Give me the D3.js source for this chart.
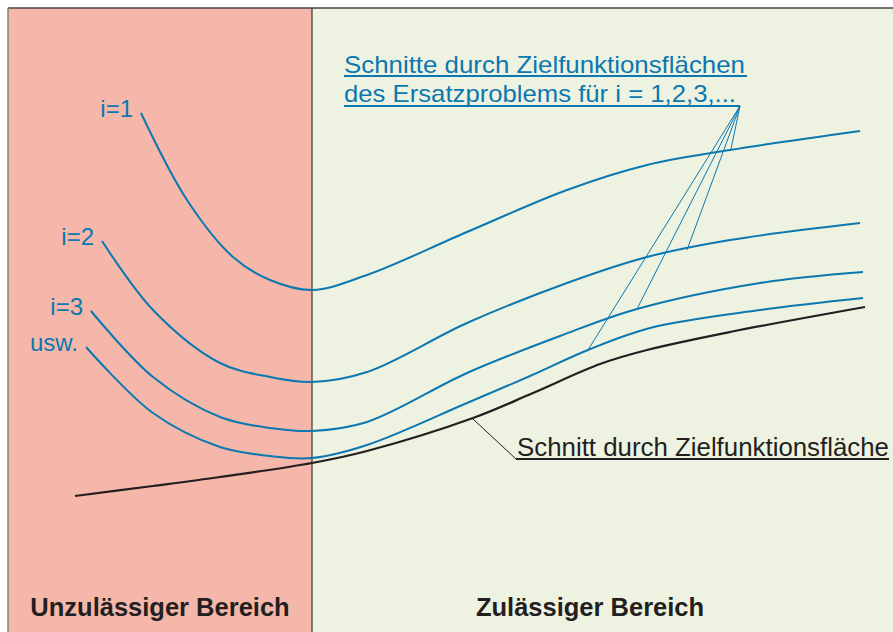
<!DOCTYPE html>
<html>
<head>
<meta charset="utf-8">
<script src="https://cdn.jsdelivr.net/npm/d3@7"></script>
<style>
  html, body { margin: 0; padding: 0; background: #ffffff; }
  svg { display: block; }
</style>
</head>
<body>
<svg id="chart"></svg>
<script>
// Schnitte durch Zielfunktionsflächen (x: Entwurfsgröße, y: Zielfunktionswert)
const boundaryX = 304;            // Grenze unzulässig / zulässig

// Ersatzproblem i = 1, 2, 3, usw.
const curveLabels = ["i=1", "i=2", "i=3", "usw."];
const penaltyCurves = [
    [[133,519],[179,432],[225,375],[262,352],[304,342],[359,357],[459,400],[559,442],[639,467],[722,482],[852,501]],
    [[94,391],[145,322],[212,269],[262,255],[304,250],[359,260],[459,309],[559,349],[639,375],[722,392],[852,409]],
    [[83,321],[145,255],[212,215],[262,204],[304,201],[359,210],[459,259],[552,296],[629,323],[752,349],[855,360]],
    [[78,285],[145,219],[212,185],[262,176],[304,174],[359,187],[459,229],[522,256],[580,282],[642,304],[752,322],[855,334]]
];

// eigentliche Zielfunktion
const objective = [[67,136],[145,146],[212,155],[304,169],[359,181],[465,214],[525,239],[592,268],[639,282],[722,300],[857,325]];

// Hinweislinien
const blueAnchor = [732, 526];
const blueTargets = [[723,483],[679,382],[629,323],[580,282]];
const blackTarget = [465, 213];
const blackElbow = [508, 173];

const blueText = ["Schnitte durch Zielfunktionsflächen", "des Ersatzproblems für i = 1,2,3,..."];
const blackText = "Schnitt durch Zielfunktionsfläche";
const regionLabels = ["Unzulässiger Bereich", "Zulässiger Bereich"];

const width = 893, height = 632;
const colors = { bad: "#f5b7a9", good: "#eef2e1", blue: "#0b78b1", black: "#231f20" };
const font = "'Liberation Sans', Arial, sans-serif";

const x = d3.scaleLinear().domain([0, 885]).range([8, 893]);
const y = d3.scaleLinear().domain([0, 624]).range([632, 8]);

const svg = d3.select("#chart").attr("width", width).attr("height", height);

// Bereiche
svg.append("rect").attr("x", x(0)).attr("y", y(624))
    .attr("width", x(boundaryX) - x(0)).attr("height", y(0) - y(624))
    .attr("fill", colors.bad);
svg.append("rect").attr("x", x(boundaryX)).attr("y", y(624))
    .attr("width", x(885) - x(boundaryX)).attr("height", y(0) - y(624))
    .attr("fill", colors.good);

// Rahmen
svg.append("line").attr("x1", x(0)).attr("x2", x(885)).attr("y1", y(624)).attr("y2", y(624))
    .attr("stroke", "#4a4546").attr("stroke-width", 1.5);
svg.append("line").attr("x1", x(0)).attr("x2", x(0)).attr("y1", y(624)).attr("y2", y(0))
    .attr("stroke", "#8c7f7c").attr("stroke-width", 1.5);
svg.append("line").attr("x1", x(boundaryX)).attr("x2", x(boundaryX)).attr("y1", y(624)).attr("y2", y(0))
    .attr("stroke", "#3d3536").attr("stroke-width", 1.2);

const line = d3.line()
    .x(d => x(d[0]))
    .y(d => y(d[1]))
    .curve(d3.curveCatmullRom.alpha(0.5));

// Ersatzprobleme
penaltyCurves.forEach((c, i) => {
    svg.append("path")
        .datum(c)
        .attr("fill", "none")
        .attr("stroke", colors.blue)
        .attr("stroke-width", 2)
        .attr("d", line);

    svg.append("text")
        .attr("x", x(c[0][0]) - 8)
        .attr("y", y(c[0][1]) + 4)
        .attr("text-anchor", "end")
        .attr("font-family", font)
        .attr("font-size", "24px")
        .attr("fill", colors.blue)
        .text(curveLabels[i]);
});

// Zielfunktion
svg.append("path")
    .datum(objective)
    .attr("fill", "none")
    .attr("stroke", colors.black)
    .attr("stroke-width", 2.2)
    .attr("d", line);

// Hinweislinien blau
blueTargets.forEach(t => {
    svg.append("line")
        .attr("x1", x(blueAnchor[0])).attr("y1", y(blueAnchor[1]))
        .attr("x2", x(t[0])).attr("y2", y(t[1]))
        .attr("stroke", colors.blue).attr("stroke-width", 1);
});

const bx = x(336);
blueText.forEach((t, i) => {
    svg.append("text")
        .attr("x", bx)
        .attr("y", 73 + i * 29)
        .attr("font-family", font)
        .attr("font-size", "24px")
        .attr("textLength", i === 0 ? 401 : 392)
        .attr("lengthAdjust", "spacingAndGlyphs")
        .attr("fill", colors.blue)
        .text(t);
});
svg.append("line").attr("x1", bx).attr("x2", 747).attr("y1", 76).attr("y2", 76)
    .attr("stroke", colors.blue).attr("stroke-width", 2);
svg.append("line").attr("x1", bx).attr("x2", x(blueAnchor[0])).attr("y1", y(blueAnchor[1])).attr("y2", y(blueAnchor[1]))
    .attr("stroke", colors.blue).attr("stroke-width", 2);

// Hinweislinie schwarz
svg.append("path")
    .datum([blackTarget, blackElbow])
    .attr("fill", "none")
    .attr("stroke", colors.black)
    .attr("stroke-width", 1)
    .attr("d", d3.line().x(d => x(d[0])).y(d => y(d[1])));
svg.append("line")
    .attr("x1", x(blackElbow[0])).attr("x2", x(881))
    .attr("y1", y(blackElbow[1])).attr("y2", y(blackElbow[1]))
    .attr("stroke", colors.black).attr("stroke-width", 2);
svg.append("text")
    .attr("x", x(blackElbow[0]) + 1)
    .attr("y", y(blackElbow[1]) - 3)
    .attr("font-family", font)
    .attr("font-size", "25px")
    .attr("textLength", 372)
    .attr("lengthAdjust", "spacingAndGlyphs")
    .attr("fill", colors.black)
    .text(blackText);

// Bereichsbeschriftung
[[x(0) + (x(boundaryX) - x(0)) / 2, regionLabels[0]], [590, regionLabels[1]]].forEach(([cx, t]) => {
    svg.append("text")
        .attr("x", cx)
        .attr("y", 616)
        .attr("text-anchor", "middle")
        .attr("font-family", font)
        .attr("font-size", "25.5px")
        .attr("font-weight", "bold")
        .attr("fill", colors.black)
        .text(t);
});
</script>
</body>
</html>
